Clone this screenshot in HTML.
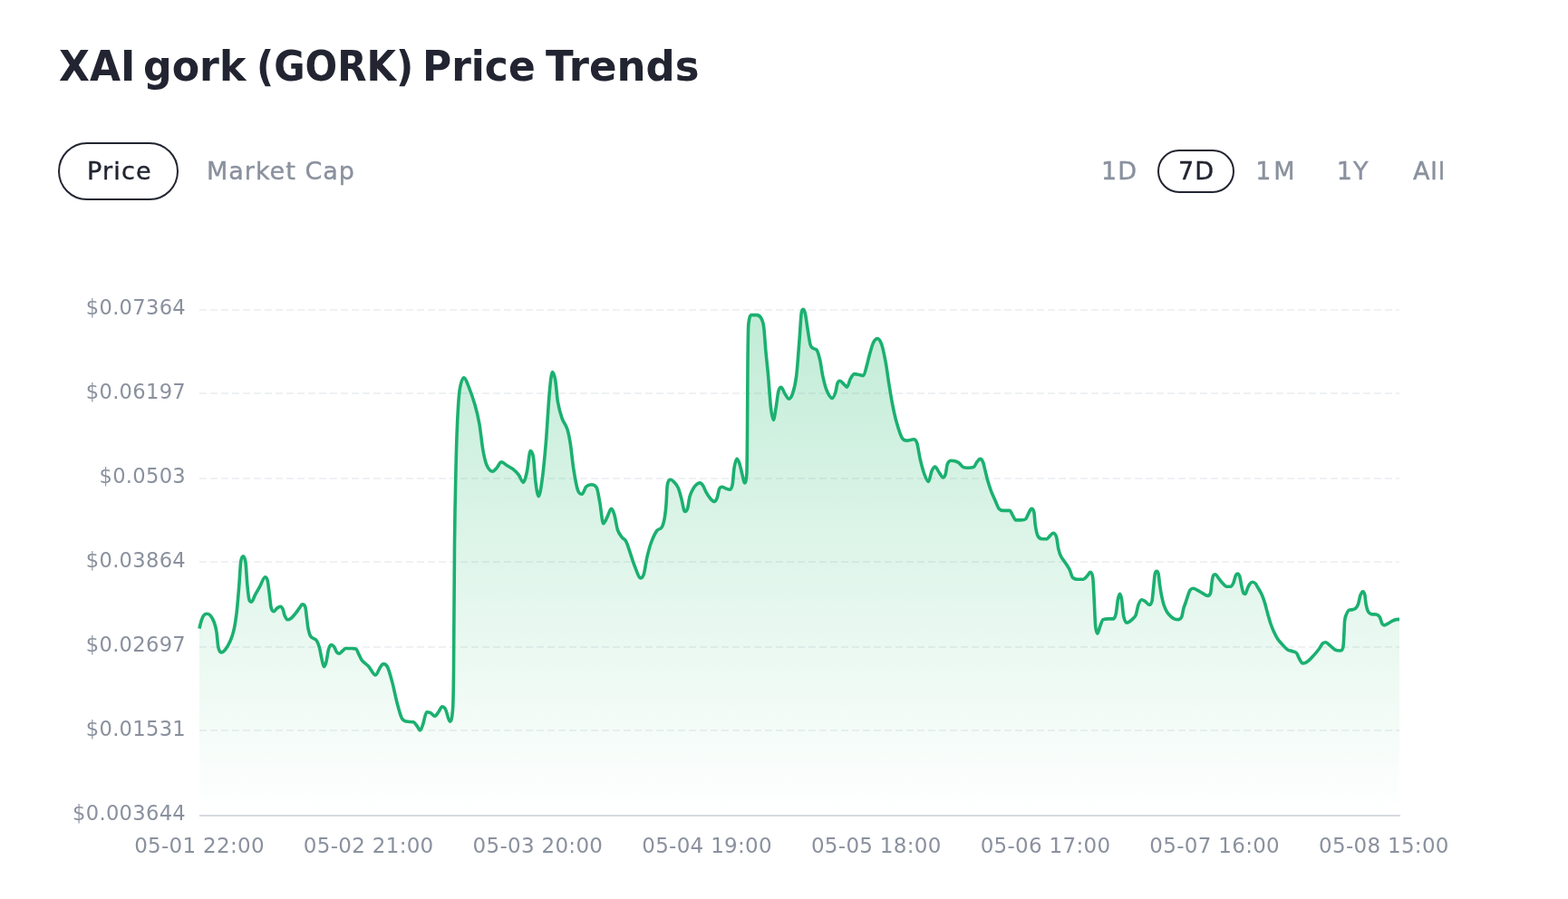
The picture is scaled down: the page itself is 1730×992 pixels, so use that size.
<!DOCTYPE html>
<html lang="en">
<head>
<meta charset="utf-8">
<title>XAI gork (GORK) Price Trends</title>
<style>
  html, body { margin: 0; padding: 0; background: #ffffff; }
  body { width: 1730px; height: 992px; position: relative; overflow: hidden;
         font-family: "DejaVu Sans", "Liberation Sans", sans-serif; }
  .abs { position: absolute; white-space: nowrap; }
  h1.title { position: absolute; left: 64.4px; top: 42.6px; margin: 0; font-size: 46.5px; line-height: 60px;
             font-weight: 700; color: #222531; letter-spacing: 0px; white-space: nowrap; width: 720px; height: 60px; }
  h1.title .w { position: absolute; top: 0; transform-origin: 0 0; }
  .pill { position: absolute; box-sizing: border-box; border: 2px solid #222531; border-radius: 999px; }
  .tab { position: absolute; font-size: 27px; line-height: 32px; color: #8a919e; white-space: nowrap; -webkit-text-stroke: 0.4px currentColor; }
  .tab.on { color: #222531; }
  .chart { position: absolute; left: 0; top: 0; }
  .ylab { font-size: 22.6px; fill: #8a919e; letter-spacing: 0.3px; }
  .xlab { font-size: 23px; fill: #8a919e; letter-spacing: 0.3px; }
</style>
</head>
<body>
  <h1 class="title"><span class="w" style="left:0.4px;transform:scaleX(0.9451)">XAI</span> <span class="w" style="left:93.2px;transform:scaleX(0.9522)">gork</span> <span class="w" style="left:218.6px;transform:scaleX(0.9018)">(GORK)</span> <span class="w" style="left:401.6px;transform:scaleX(0.9441)">Price</span> <span class="w" style="left:537.3px;transform:scaleX(0.9675)">Trends</span></h1>

  <div class="pill" style="left:64px;top:157px;width:133px;height:64px;"></div>
  <div class="tab on" style="left:96px;top:173px;letter-spacing:1.2px;">Price</div>
  <div class="tab" style="left:228px;top:173px;letter-spacing:1px;">Market Cap</div>

  <div class="tab" style="left:1215px;top:173px;letter-spacing:1px;">1D</div>
  <div class="pill" style="left:1277px;top:165px;width:85px;height:48px;"></div>
  <div class="tab on" style="left:1300px;top:173px;letter-spacing:1px;">7D</div>
  <div class="tab" style="left:1385.2px;top:173px;letter-spacing:3px;">1M</div>
  <div class="tab" style="left:1474.8px;top:173px;letter-spacing:1px;">1Y</div>
  <div class="tab" style="left:1558.9px;top:173px;letter-spacing:1px;">All</div>

  <svg class="chart" width="1730" height="992" viewBox="0 0 1730 992">
    <defs>
      <linearGradient id="g" x1="0" y1="341" x2="0" y2="899" gradientUnits="userSpaceOnUse">
        <stop offset="0" stop-color="#18b868" stop-opacity="0.27"/>
        <stop offset="1" stop-color="#18b868" stop-opacity="0"/>
      </linearGradient>
    </defs>
    <g fill="none" stroke="#eff1f4" stroke-width="2" stroke-dasharray="8 4">
      <line x1="220" y1="342" x2="1544" y2="342"/>
      <line x1="220" y1="434" x2="1544" y2="434"/>
      <line x1="220" y1="528" x2="1544" y2="528"/>
      <line x1="220" y1="620" x2="1544" y2="620"/>
      <line x1="220" y1="714" x2="1544" y2="714"/>
      <line x1="220" y1="806" x2="1544" y2="806"/>
    </g>
    <rect x="220" y="899" width="1325" height="2" fill="#d6dae2"/>
    <path d="M219.90,693.70 C220.77,690.06 221.63,686.42 222.50,683.90 C223.37,681.38 224.23,679.57 225.10,678.60 C226.20,677.37 227.30,677.30 228.40,677.30 C229.70,677.30 231.00,677.77 232.30,679.30 C233.60,680.83 234.90,683.01 236.20,686.50 C237.10,688.91 238.00,691.62 238.90,697.00 C239.53,700.79 240.17,711.21 240.80,714.00 C241.90,718.84 243.00,719.90 244.10,719.90 C245.63,719.90 247.17,718.54 248.70,716.60 C250.43,714.41 252.17,711.44 253.90,707.50 C255.23,704.47 256.57,701.53 257.90,695.70 C258.97,691.03 260.03,685.00 261.10,676.00 C262.00,668.40 262.90,656.92 263.80,645.90 C264.43,638.15 265.07,623.85 265.70,619.70 C266.60,613.80 267.50,613.80 268.40,613.80 C269.27,613.80 270.13,614.82 271.00,621.00 C271.63,625.52 272.27,639.31 272.90,645.90 C273.57,652.84 274.23,659.60 274.90,661.60 C275.77,664.20 276.63,664.20 277.50,664.20 C278.83,664.20 280.17,658.86 281.50,656.40 C283.23,653.20 284.97,650.28 286.70,647.20 C288.67,643.71 290.63,636.70 292.60,636.70 C293.47,636.70 294.33,637.15 295.20,640.60 C295.87,643.25 296.53,649.97 297.20,655.00 C297.87,660.03 298.53,668.36 299.20,670.80 C300.27,674.70 301.33,674.70 302.40,674.70 C303.27,674.70 304.13,672.37 305.00,671.70 C306.50,670.54 308.00,669.20 309.50,669.20 C310.37,669.20 311.23,670.32 312.10,672.20 C312.77,673.65 313.43,677.65 314.10,679.20 C315.10,681.52 316.10,683.80 317.10,683.80 C318.43,683.80 319.77,683.34 321.10,682.30 C322.80,680.97 324.50,678.77 326.20,676.70 C327.53,675.07 328.87,672.94 330.20,671.20 C331.37,669.68 332.53,666.90 333.70,666.90 C334.73,666.90 335.77,666.90 336.80,669.70 C337.30,671.05 337.80,676.43 338.30,680.20 C338.80,683.97 339.30,689.65 339.80,692.30 C340.63,696.72 341.47,699.72 342.30,701.40 C343.47,703.75 344.63,703.48 345.80,704.40 C347.00,705.35 348.20,705.16 349.40,707.00 C350.40,708.53 351.40,710.94 352.40,714.50 C353.23,717.47 354.07,723.07 354.90,726.60 C355.73,730.13 356.57,735.70 357.40,735.70 C358.23,735.70 359.07,733.74 359.90,730.60 C360.77,727.34 361.63,719.46 362.50,716.50 C363.50,713.09 364.50,711.50 365.50,711.50 C366.50,711.50 367.50,712.15 368.50,713.50 C369.50,714.85 370.50,718.35 371.50,719.60 C372.53,720.89 373.57,721.10 374.60,721.10 C375.60,721.10 376.60,719.30 377.60,718.50 C378.93,717.43 380.27,715.50 381.60,715.50 C383.63,715.50 385.67,715.50 387.70,715.50 C389.37,715.50 391.03,715.50 392.70,716.00 C393.70,716.30 394.70,719.69 395.70,721.60 C396.90,723.89 398.10,727.10 399.30,728.60 C401.73,731.64 404.17,732.56 406.60,735.20 C409.20,738.02 411.80,745.00 414.40,745.00 C415.93,745.00 417.47,739.44 419.00,737.20 C420.30,735.30 421.60,732.60 422.90,732.60 C424.43,732.60 425.97,732.76 427.50,735.90 C429.27,739.52 431.03,746.29 432.80,752.90 C434.53,759.39 436.27,768.65 438.00,775.20 C439.73,781.75 441.47,788.75 443.20,792.20 C444.97,795.72 446.73,795.62 448.50,796.10 C451.10,796.80 453.70,796.10 456.30,796.80 C457.63,797.16 458.97,799.70 460.30,801.40 C461.37,802.76 462.43,806.00 463.50,806.00 C464.60,806.00 465.70,801.90 466.80,798.80 C468.10,795.13 469.40,785.70 470.70,785.70 C472.03,785.70 473.37,785.70 474.70,786.30 C476.43,787.08 478.17,790.20 479.90,790.20 C481.20,790.20 482.50,787.41 483.80,785.70 C485.13,783.94 486.47,779.80 487.80,779.80 C489.10,779.80 490.40,780.51 491.70,783.00 C493.23,785.94 494.77,796.10 496.30,796.10 C497.40,796.10 498.50,796.10 499.60,781.70 C499.90,777.77 500.20,768.69 500.50,740.00 C500.83,708.12 501.17,629.12 501.50,600.00 C502.03,553.42 502.57,535.48 503.10,512.90 C503.63,490.32 504.17,475.47 504.70,464.50 C505.50,448.04 506.30,435.89 507.10,430.60 C508.70,420.02 510.30,416.90 511.90,416.90 C513.53,416.90 515.17,421.76 516.80,425.80 C519.20,431.73 521.60,438.49 524.00,446.80 C525.63,452.46 527.27,458.52 528.90,467.70 C530.23,475.19 531.57,489.27 532.90,496.80 C534.23,504.33 535.57,509.93 536.90,512.90 C539.07,517.73 541.23,520.20 543.40,520.20 C545.00,520.20 546.60,517.83 548.20,516.10 C549.83,514.33 551.47,509.70 553.10,509.70 C555.23,509.70 557.37,512.38 559.50,513.70 C561.67,515.04 563.83,515.94 566.00,517.70 C568.13,519.44 570.27,521.44 572.40,524.20 C574.03,526.31 575.67,532.30 577.30,532.30 C578.63,532.30 579.97,526.78 581.30,521.00 C582.63,515.22 583.97,497.60 585.30,497.60 C586.37,497.60 587.43,498.31 588.50,504.80 C589.33,509.87 590.17,526.04 591.00,532.30 C592.07,540.31 593.13,547.60 594.20,547.60 C595.53,547.60 596.87,538.70 598.20,529.00 C599.57,519.06 600.93,505.02 602.30,488.70 C603.63,472.78 604.97,446.78 606.30,432.30 C607.37,420.71 608.43,410.50 609.50,410.50 C610.57,410.50 611.63,413.49 612.70,419.40 C613.60,424.39 614.50,438.06 615.40,443.20 C616.97,452.16 618.53,457.17 620.10,461.70 C622.00,467.20 623.90,467.54 625.80,473.30 C626.97,476.84 628.13,482.25 629.30,489.60 C630.47,496.95 631.63,510.05 632.80,517.40 C634.33,527.05 635.87,536.10 637.40,540.60 C638.97,545.20 640.53,545.20 642.10,545.20 C643.63,545.20 645.17,538.63 646.70,537.10 C648.63,535.17 650.57,534.80 652.50,534.80 C654.43,534.80 656.37,534.80 658.30,538.20 C659.47,540.25 660.63,548.27 661.80,554.50 C663.10,561.44 664.40,577.70 665.70,577.70 C667.10,577.70 668.50,573.29 669.90,570.70 C671.43,567.86 672.97,561.40 674.50,561.40 C675.67,561.40 676.83,564.48 678.00,568.40 C679.13,572.21 680.27,581.20 681.40,584.60 C682.97,589.30 684.53,590.54 686.10,592.70 C687.63,594.81 689.17,594.50 690.70,597.40 C692.23,600.30 693.77,605.71 695.30,610.10 C696.87,614.58 698.43,620.25 700.00,624.00 C702.30,629.51 704.60,637.90 706.90,637.90 C708.07,637.90 709.23,637.15 710.40,633.30 C711.57,629.45 712.73,619.81 713.90,614.80 C715.43,608.21 716.97,602.65 718.50,598.50 C720.57,592.91 722.63,588.56 724.70,585.60 C726.50,583.02 728.30,584.75 730.10,581.90 C731.10,580.32 732.10,577.48 733.10,572.30 C733.73,569.02 734.37,563.92 735.00,556.50 C735.40,551.82 735.80,538.23 736.20,536.00 C737.40,529.30 738.60,529.30 739.80,529.30 C741.20,529.30 742.60,530.80 744.00,532.30 C745.43,533.83 746.87,535.10 748.30,538.40 C749.50,541.16 750.70,546.17 751.90,550.50 C753.10,554.83 754.30,564.40 755.50,564.40 C756.50,564.40 757.50,564.36 758.50,561.40 C759.33,558.93 760.17,551.08 761.00,548.10 C762.20,543.81 763.40,541.82 764.60,539.60 C765.80,537.38 767.00,535.82 768.20,534.80 C769.63,533.58 771.07,532.90 772.50,532.90 C773.70,532.90 774.90,534.73 776.10,536.60 C777.10,538.16 778.10,541.44 779.10,543.20 C780.73,546.07 782.37,548.65 784.00,550.50 C785.40,552.08 786.80,553.50 788.20,553.50 C789.20,553.50 790.20,551.87 791.20,549.30 C792.00,547.24 792.80,541.36 793.60,539.60 C794.63,537.33 795.67,537.20 796.70,537.20 C798.10,537.20 799.50,538.50 800.90,539.00 C802.30,539.50 803.70,540.20 805.10,540.20 C806.10,540.20 807.10,539.62 808.10,534.80 C808.73,531.75 809.37,520.28 810.00,516.60 C811.00,510.78 812.00,506.30 813.00,506.30 C814.00,506.30 815.00,508.87 816.00,511.80 C817.00,514.73 818.00,519.99 819.00,523.90 C819.80,527.03 820.60,532.90 821.40,532.90 C822.23,532.90 823.07,532.90 823.90,522.70 C824.10,520.25 824.30,502.31 824.50,480.00 C824.67,461.41 824.83,415.62 825.00,400.00 C825.27,375.02 825.53,360.62 825.80,358.20 C826.97,347.60 828.13,347.60 829.30,347.60 C831.17,347.60 833.03,347.60 834.90,347.60 C836.57,347.60 838.23,348.34 839.90,351.20 C840.83,352.80 841.77,354.30 842.70,361.00 C843.40,366.03 844.10,378.73 844.80,386.40 C845.73,396.63 846.67,404.29 847.60,414.70 C848.57,425.49 849.53,441.74 850.50,450.00 C851.43,457.97 852.37,463.40 853.30,463.40 C854.23,463.40 855.17,455.30 856.10,450.00 C857.03,444.70 857.97,435.30 858.90,431.60 C859.87,427.77 860.83,427.40 861.80,427.40 C863.20,427.40 864.60,432.28 866.00,434.40 C867.40,436.52 868.80,440.10 870.20,440.10 C871.63,440.10 873.07,438.68 874.50,434.40 C875.90,430.22 877.30,425.99 878.70,414.70 C879.87,405.29 881.03,386.75 882.20,372.30 C882.93,363.22 883.67,347.03 884.40,344.10 C885.10,341.30 885.80,341.30 886.50,341.30 C887.20,341.30 887.90,343.47 888.60,346.90 C889.53,351.47 890.47,359.65 891.40,365.30 C892.33,370.95 893.27,377.69 894.20,380.80 C895.17,384.02 896.13,383.54 897.10,384.30 C898.50,385.40 899.90,384.30 901.30,386.40 C902.47,388.15 903.63,392.54 904.80,397.70 C905.77,401.97 906.73,410.28 907.70,414.70 C909.10,421.11 910.50,426.91 911.90,430.20 C914.00,435.14 916.10,439.40 918.20,439.40 C919.40,439.40 920.60,436.43 921.80,433.00 C922.50,431.00 923.20,424.91 923.90,423.10 C924.83,420.68 925.77,420.30 926.70,420.30 C928.13,420.30 929.57,422.55 931.00,423.80 C932.17,424.82 933.33,427.10 934.50,427.10 C935.73,427.10 936.97,420.28 938.20,418.10 C939.70,415.45 941.20,412.60 942.70,412.60 C944.53,412.60 946.37,413.17 948.20,413.50 C949.70,413.77 951.20,414.40 952.70,414.40 C953.90,414.40 955.10,407.63 956.30,403.50 C957.20,400.40 958.10,395.83 959.00,392.70 C960.53,387.36 962.07,381.32 963.60,378.10 C965.10,374.95 966.60,373.60 968.10,373.60 C969.63,373.60 971.17,375.57 972.70,380.00 C974.20,384.34 975.70,391.84 977.20,399.90 C978.40,406.34 979.60,416.04 980.80,423.50 C982.03,431.17 983.27,439.03 984.50,445.30 C986.00,452.93 987.50,459.96 989.00,465.20 C991.13,472.66 993.27,480.20 995.40,483.40 C997.20,486.10 999.00,486.10 1000.80,486.10 C1003.23,486.10 1005.67,484.80 1008.10,484.80 C1009.30,484.80 1010.50,485.10 1011.70,488.80 C1012.90,492.50 1014.10,501.95 1015.30,507.00 C1016.83,513.45 1018.37,519.17 1019.90,523.30 C1021.40,527.34 1022.90,531.50 1024.40,531.50 C1025.60,531.50 1026.80,522.40 1028.00,519.70 C1029.23,516.93 1030.47,515.10 1031.70,515.10 C1033.20,515.10 1034.70,519.53 1036.20,521.50 C1037.70,523.47 1039.20,526.90 1040.70,526.90 C1041.57,526.90 1042.43,525.61 1043.30,522.80 C1043.93,520.75 1044.57,513.86 1045.20,512.30 C1046.53,509.02 1047.87,508.30 1049.20,508.30 C1050.93,508.30 1052.67,508.49 1054.40,509.00 C1055.70,509.39 1057.00,509.99 1058.30,511.00 C1059.83,512.19 1061.37,515.00 1062.90,515.60 C1064.43,516.20 1065.97,516.20 1067.50,516.20 C1069.70,516.20 1071.90,516.20 1074.10,515.60 C1075.40,515.25 1076.70,511.36 1078.00,509.70 C1079.10,508.29 1080.20,506.40 1081.30,506.40 C1082.37,506.40 1083.43,507.22 1084.50,509.70 C1085.40,511.79 1086.30,516.55 1087.20,520.10 C1088.07,523.52 1088.93,527.63 1089.80,530.60 C1091.10,535.06 1092.40,538.99 1093.70,542.40 C1095.23,546.42 1096.77,549.47 1098.30,552.90 C1099.60,555.81 1100.90,559.79 1102.20,561.40 C1103.73,563.29 1105.27,563.40 1106.80,563.40 C1109.20,563.40 1111.60,563.40 1114.00,563.40 C1115.10,563.40 1116.20,566.85 1117.30,568.60 C1118.40,570.35 1119.50,573.90 1120.60,573.90 C1122.57,573.90 1124.53,573.90 1126.50,573.90 C1128.23,573.90 1129.97,573.90 1131.70,572.60 C1132.80,571.78 1133.90,567.96 1135.00,566.00 C1136.00,564.22 1137.00,561.40 1138.00,561.40 C1138.97,561.40 1139.93,561.40 1140.90,565.40 C1141.33,567.19 1141.77,576.27 1142.20,579.10 C1143.07,584.77 1143.93,589.16 1144.80,590.90 C1146.53,594.39 1148.27,594.80 1150.00,594.80 C1151.67,594.80 1153.33,594.80 1155.00,594.70 C1156.17,594.63 1157.33,592.25 1158.50,591.20 C1159.70,590.12 1160.90,588.30 1162.10,588.30 C1163.27,588.30 1164.43,589.06 1165.60,592.60 C1166.30,594.73 1167.00,602.29 1167.70,605.30 C1168.63,609.32 1169.57,611.84 1170.50,613.70 C1172.40,617.48 1174.30,619.21 1176.20,622.20 C1177.60,624.41 1179.00,626.34 1180.40,629.30 C1181.33,631.27 1182.27,635.92 1183.20,637.00 C1185.10,639.20 1187.00,639.20 1188.90,639.20 C1191.00,639.20 1193.10,639.20 1195.20,639.20 C1196.63,639.20 1198.07,637.03 1199.50,635.60 C1200.67,634.43 1201.83,631.40 1203.00,631.40 C1203.93,631.40 1204.87,631.40 1205.80,637.70 C1206.27,640.85 1206.73,652.98 1207.20,661.70 C1207.67,670.42 1208.13,685.15 1208.60,690.00 C1209.33,697.62 1210.07,699.10 1210.80,699.10 C1211.73,699.10 1212.67,693.70 1213.60,691.40 C1214.77,688.53 1215.93,684.03 1217.10,683.60 C1219.00,682.90 1220.90,682.90 1222.80,682.90 C1224.67,682.90 1226.53,682.90 1228.40,682.90 C1229.33,682.90 1230.27,681.26 1231.20,677.30 C1231.93,674.19 1232.67,665.43 1233.40,661.70 C1234.10,658.13 1234.80,655.40 1235.50,655.40 C1236.20,655.40 1236.90,657.58 1237.60,661.70 C1238.30,665.82 1239.00,676.92 1239.70,680.10 C1240.87,685.39 1242.03,687.10 1243.20,687.10 C1244.87,687.10 1246.53,685.71 1248.20,684.30 C1249.83,682.91 1251.47,682.24 1253.10,678.70 C1254.07,676.61 1255.03,669.97 1256.00,667.40 C1257.17,664.30 1258.33,661.70 1259.50,661.70 C1260.90,661.70 1262.30,662.86 1263.70,663.80 C1265.13,664.76 1266.57,667.40 1268.00,667.40 C1269.00,667.40 1270.00,667.20 1271.00,663.40 C1271.50,661.50 1272.00,655.01 1272.50,650.30 C1273.03,645.28 1273.57,637.18 1274.10,634.20 C1274.77,630.48 1275.43,630.20 1276.10,630.20 C1276.77,630.20 1277.43,630.32 1278.10,633.20 C1278.60,635.36 1279.10,641.84 1279.60,645.30 C1280.27,649.91 1280.93,654.11 1281.60,657.40 C1282.43,661.51 1283.27,665.03 1284.10,667.50 C1285.30,671.06 1286.50,673.56 1287.70,675.50 C1289.20,677.93 1290.70,679.26 1292.20,680.60 C1293.53,681.79 1294.87,682.61 1296.20,683.10 C1297.57,683.60 1298.93,683.60 1300.30,683.60 C1301.47,683.60 1302.63,683.17 1303.80,680.60 C1304.47,679.13 1305.13,673.90 1305.80,671.50 C1306.63,668.50 1307.47,666.87 1308.30,664.40 C1309.17,661.83 1310.03,658.87 1310.90,656.40 C1311.57,654.50 1312.23,652.16 1312.90,651.30 C1314.07,649.79 1315.23,649.30 1316.40,649.30 C1317.73,649.30 1319.07,650.13 1320.40,650.80 C1322.43,651.83 1324.47,653.29 1326.50,654.40 C1328.50,655.49 1330.50,657.40 1332.50,657.40 C1333.53,657.40 1334.57,657.40 1335.60,654.40 C1336.10,652.95 1336.60,645.50 1337.10,642.30 C1337.60,639.10 1338.10,636.10 1338.60,635.20 C1339.43,633.70 1340.27,633.70 1341.10,633.70 C1342.27,633.70 1343.43,636.73 1344.60,638.20 C1345.97,639.93 1347.33,641.93 1348.70,643.30 C1350.37,644.97 1352.03,647.30 1353.70,647.30 C1355.03,647.30 1356.37,647.30 1357.70,647.30 C1358.73,647.30 1359.77,645.53 1360.80,643.30 C1361.63,641.50 1362.47,637.11 1363.30,635.20 C1363.97,633.67 1364.63,633.00 1365.30,633.00 C1366.13,633.00 1366.97,633.74 1367.80,636.20 C1368.47,638.17 1369.13,643.34 1369.80,646.30 C1370.50,649.41 1371.20,653.35 1371.90,654.40 C1372.57,655.40 1373.23,655.40 1373.90,655.40 C1374.73,655.40 1375.57,651.15 1376.40,649.30 C1377.23,647.45 1378.07,645.36 1378.90,644.30 C1379.90,643.03 1380.90,642.30 1381.90,642.30 C1383.10,642.30 1384.30,643.12 1385.50,644.30 C1386.13,644.92 1386.77,646.59 1387.40,647.70 C1388.90,650.33 1390.40,652.29 1391.90,655.50 C1393.00,657.86 1394.10,660.88 1395.20,664.40 C1396.30,667.92 1397.40,672.72 1398.50,676.60 C1399.60,680.48 1400.70,684.43 1401.80,687.70 C1402.93,691.07 1404.07,694.00 1405.20,696.50 C1406.67,699.73 1408.13,702.68 1409.60,704.90 C1411.43,707.68 1413.27,709.50 1415.10,711.50 C1416.97,713.53 1418.83,715.79 1420.70,717.00 C1422.53,718.19 1424.37,717.99 1426.20,718.70 C1427.70,719.29 1429.20,719.27 1430.70,720.90 C1431.60,721.88 1432.50,724.99 1433.40,726.50 C1434.70,728.69 1436.00,732.00 1437.30,732.00 C1439.17,732.00 1441.03,731.16 1442.90,729.80 C1445.10,728.20 1447.30,725.52 1449.50,723.10 C1451.33,721.08 1453.17,718.94 1455.00,716.50 C1456.50,714.50 1458.00,711.30 1459.50,709.80 C1460.60,708.70 1461.70,708.70 1462.80,708.70 C1464.27,708.70 1465.73,710.92 1467.20,712.10 C1469.20,713.72 1471.20,716.10 1473.20,717.10 C1475.00,718.00 1476.80,718.00 1478.60,718.00 C1479.67,718.00 1480.73,718.00 1481.80,714.40 C1482.10,713.39 1482.40,708.33 1482.70,703.50 C1483.00,698.67 1483.30,688.22 1483.60,685.40 C1484.20,679.76 1484.80,679.58 1485.40,678.10 C1486.47,675.48 1487.53,673.46 1488.60,673.10 C1489.80,672.70 1491.00,673.06 1492.20,672.70 C1493.43,672.33 1494.67,672.13 1495.90,670.90 C1496.80,670.00 1497.70,668.82 1498.60,666.30 C1499.33,664.25 1500.07,659.19 1500.80,657.20 C1501.73,654.66 1502.67,652.70 1503.60,652.70 C1504.33,652.70 1505.07,653.35 1505.80,656.30 C1506.27,658.18 1506.73,664.85 1507.20,667.20 C1507.97,671.05 1508.73,673.54 1509.50,674.90 C1510.70,677.04 1511.90,677.43 1513.10,677.70 C1514.90,678.10 1516.70,677.70 1518.50,678.10 C1519.73,678.37 1520.97,678.87 1522.20,680.80 C1523.10,682.21 1524.00,686.58 1524.90,688.10 C1525.80,689.62 1526.70,689.90 1527.60,689.90 C1528.80,689.90 1530.00,688.76 1531.20,688.10 C1532.73,687.26 1534.27,686.16 1535.80,685.40 C1537.30,684.66 1538.80,683.84 1540.30,683.60 C1541.53,683.40 1542.77,683.40 1544.00,683.40 L1544.00,899 L219.90,899 Z" fill="url(#g)" stroke="none"/>
    <path d="M219.90,693.70 C220.77,690.06 221.63,686.42 222.50,683.90 C223.37,681.38 224.23,679.57 225.10,678.60 C226.20,677.37 227.30,677.30 228.40,677.30 C229.70,677.30 231.00,677.77 232.30,679.30 C233.60,680.83 234.90,683.01 236.20,686.50 C237.10,688.91 238.00,691.62 238.90,697.00 C239.53,700.79 240.17,711.21 240.80,714.00 C241.90,718.84 243.00,719.90 244.10,719.90 C245.63,719.90 247.17,718.54 248.70,716.60 C250.43,714.41 252.17,711.44 253.90,707.50 C255.23,704.47 256.57,701.53 257.90,695.70 C258.97,691.03 260.03,685.00 261.10,676.00 C262.00,668.40 262.90,656.92 263.80,645.90 C264.43,638.15 265.07,623.85 265.70,619.70 C266.60,613.80 267.50,613.80 268.40,613.80 C269.27,613.80 270.13,614.82 271.00,621.00 C271.63,625.52 272.27,639.31 272.90,645.90 C273.57,652.84 274.23,659.60 274.90,661.60 C275.77,664.20 276.63,664.20 277.50,664.20 C278.83,664.20 280.17,658.86 281.50,656.40 C283.23,653.20 284.97,650.28 286.70,647.20 C288.67,643.71 290.63,636.70 292.60,636.70 C293.47,636.70 294.33,637.15 295.20,640.60 C295.87,643.25 296.53,649.97 297.20,655.00 C297.87,660.03 298.53,668.36 299.20,670.80 C300.27,674.70 301.33,674.70 302.40,674.70 C303.27,674.70 304.13,672.37 305.00,671.70 C306.50,670.54 308.00,669.20 309.50,669.20 C310.37,669.20 311.23,670.32 312.10,672.20 C312.77,673.65 313.43,677.65 314.10,679.20 C315.10,681.52 316.10,683.80 317.10,683.80 C318.43,683.80 319.77,683.34 321.10,682.30 C322.80,680.97 324.50,678.77 326.20,676.70 C327.53,675.07 328.87,672.94 330.20,671.20 C331.37,669.68 332.53,666.90 333.70,666.90 C334.73,666.90 335.77,666.90 336.80,669.70 C337.30,671.05 337.80,676.43 338.30,680.20 C338.80,683.97 339.30,689.65 339.80,692.30 C340.63,696.72 341.47,699.72 342.30,701.40 C343.47,703.75 344.63,703.48 345.80,704.40 C347.00,705.35 348.20,705.16 349.40,707.00 C350.40,708.53 351.40,710.94 352.40,714.50 C353.23,717.47 354.07,723.07 354.90,726.60 C355.73,730.13 356.57,735.70 357.40,735.70 C358.23,735.70 359.07,733.74 359.90,730.60 C360.77,727.34 361.63,719.46 362.50,716.50 C363.50,713.09 364.50,711.50 365.50,711.50 C366.50,711.50 367.50,712.15 368.50,713.50 C369.50,714.85 370.50,718.35 371.50,719.60 C372.53,720.89 373.57,721.10 374.60,721.10 C375.60,721.10 376.60,719.30 377.60,718.50 C378.93,717.43 380.27,715.50 381.60,715.50 C383.63,715.50 385.67,715.50 387.70,715.50 C389.37,715.50 391.03,715.50 392.70,716.00 C393.70,716.30 394.70,719.69 395.70,721.60 C396.90,723.89 398.10,727.10 399.30,728.60 C401.73,731.64 404.17,732.56 406.60,735.20 C409.20,738.02 411.80,745.00 414.40,745.00 C415.93,745.00 417.47,739.44 419.00,737.20 C420.30,735.30 421.60,732.60 422.90,732.60 C424.43,732.60 425.97,732.76 427.50,735.90 C429.27,739.52 431.03,746.29 432.80,752.90 C434.53,759.39 436.27,768.65 438.00,775.20 C439.73,781.75 441.47,788.75 443.20,792.20 C444.97,795.72 446.73,795.62 448.50,796.10 C451.10,796.80 453.70,796.10 456.30,796.80 C457.63,797.16 458.97,799.70 460.30,801.40 C461.37,802.76 462.43,806.00 463.50,806.00 C464.60,806.00 465.70,801.90 466.80,798.80 C468.10,795.13 469.40,785.70 470.70,785.70 C472.03,785.70 473.37,785.70 474.70,786.30 C476.43,787.08 478.17,790.20 479.90,790.20 C481.20,790.20 482.50,787.41 483.80,785.70 C485.13,783.94 486.47,779.80 487.80,779.80 C489.10,779.80 490.40,780.51 491.70,783.00 C493.23,785.94 494.77,796.10 496.30,796.10 C497.40,796.10 498.50,796.10 499.60,781.70 C499.90,777.77 500.20,768.69 500.50,740.00 C500.83,708.12 501.17,629.12 501.50,600.00 C502.03,553.42 502.57,535.48 503.10,512.90 C503.63,490.32 504.17,475.47 504.70,464.50 C505.50,448.04 506.30,435.89 507.10,430.60 C508.70,420.02 510.30,416.90 511.90,416.90 C513.53,416.90 515.17,421.76 516.80,425.80 C519.20,431.73 521.60,438.49 524.00,446.80 C525.63,452.46 527.27,458.52 528.90,467.70 C530.23,475.19 531.57,489.27 532.90,496.80 C534.23,504.33 535.57,509.93 536.90,512.90 C539.07,517.73 541.23,520.20 543.40,520.20 C545.00,520.20 546.60,517.83 548.20,516.10 C549.83,514.33 551.47,509.70 553.10,509.70 C555.23,509.70 557.37,512.38 559.50,513.70 C561.67,515.04 563.83,515.94 566.00,517.70 C568.13,519.44 570.27,521.44 572.40,524.20 C574.03,526.31 575.67,532.30 577.30,532.30 C578.63,532.30 579.97,526.78 581.30,521.00 C582.63,515.22 583.97,497.60 585.30,497.60 C586.37,497.60 587.43,498.31 588.50,504.80 C589.33,509.87 590.17,526.04 591.00,532.30 C592.07,540.31 593.13,547.60 594.20,547.60 C595.53,547.60 596.87,538.70 598.20,529.00 C599.57,519.06 600.93,505.02 602.30,488.70 C603.63,472.78 604.97,446.78 606.30,432.30 C607.37,420.71 608.43,410.50 609.50,410.50 C610.57,410.50 611.63,413.49 612.70,419.40 C613.60,424.39 614.50,438.06 615.40,443.20 C616.97,452.16 618.53,457.17 620.10,461.70 C622.00,467.20 623.90,467.54 625.80,473.30 C626.97,476.84 628.13,482.25 629.30,489.60 C630.47,496.95 631.63,510.05 632.80,517.40 C634.33,527.05 635.87,536.10 637.40,540.60 C638.97,545.20 640.53,545.20 642.10,545.20 C643.63,545.20 645.17,538.63 646.70,537.10 C648.63,535.17 650.57,534.80 652.50,534.80 C654.43,534.80 656.37,534.80 658.30,538.20 C659.47,540.25 660.63,548.27 661.80,554.50 C663.10,561.44 664.40,577.70 665.70,577.70 C667.10,577.70 668.50,573.29 669.90,570.70 C671.43,567.86 672.97,561.40 674.50,561.40 C675.67,561.40 676.83,564.48 678.00,568.40 C679.13,572.21 680.27,581.20 681.40,584.60 C682.97,589.30 684.53,590.54 686.10,592.70 C687.63,594.81 689.17,594.50 690.70,597.40 C692.23,600.30 693.77,605.71 695.30,610.10 C696.87,614.58 698.43,620.25 700.00,624.00 C702.30,629.51 704.60,637.90 706.90,637.90 C708.07,637.90 709.23,637.15 710.40,633.30 C711.57,629.45 712.73,619.81 713.90,614.80 C715.43,608.21 716.97,602.65 718.50,598.50 C720.57,592.91 722.63,588.56 724.70,585.60 C726.50,583.02 728.30,584.75 730.10,581.90 C731.10,580.32 732.10,577.48 733.10,572.30 C733.73,569.02 734.37,563.92 735.00,556.50 C735.40,551.82 735.80,538.23 736.20,536.00 C737.40,529.30 738.60,529.30 739.80,529.30 C741.20,529.30 742.60,530.80 744.00,532.30 C745.43,533.83 746.87,535.10 748.30,538.40 C749.50,541.16 750.70,546.17 751.90,550.50 C753.10,554.83 754.30,564.40 755.50,564.40 C756.50,564.40 757.50,564.36 758.50,561.40 C759.33,558.93 760.17,551.08 761.00,548.10 C762.20,543.81 763.40,541.82 764.60,539.60 C765.80,537.38 767.00,535.82 768.20,534.80 C769.63,533.58 771.07,532.90 772.50,532.90 C773.70,532.90 774.90,534.73 776.10,536.60 C777.10,538.16 778.10,541.44 779.10,543.20 C780.73,546.07 782.37,548.65 784.00,550.50 C785.40,552.08 786.80,553.50 788.20,553.50 C789.20,553.50 790.20,551.87 791.20,549.30 C792.00,547.24 792.80,541.36 793.60,539.60 C794.63,537.33 795.67,537.20 796.70,537.20 C798.10,537.20 799.50,538.50 800.90,539.00 C802.30,539.50 803.70,540.20 805.10,540.20 C806.10,540.20 807.10,539.62 808.10,534.80 C808.73,531.75 809.37,520.28 810.00,516.60 C811.00,510.78 812.00,506.30 813.00,506.30 C814.00,506.30 815.00,508.87 816.00,511.80 C817.00,514.73 818.00,519.99 819.00,523.90 C819.80,527.03 820.60,532.90 821.40,532.90 C822.23,532.90 823.07,532.90 823.90,522.70 C824.10,520.25 824.30,502.31 824.50,480.00 C824.67,461.41 824.83,415.62 825.00,400.00 C825.27,375.02 825.53,360.62 825.80,358.20 C826.97,347.60 828.13,347.60 829.30,347.60 C831.17,347.60 833.03,347.60 834.90,347.60 C836.57,347.60 838.23,348.34 839.90,351.20 C840.83,352.80 841.77,354.30 842.70,361.00 C843.40,366.03 844.10,378.73 844.80,386.40 C845.73,396.63 846.67,404.29 847.60,414.70 C848.57,425.49 849.53,441.74 850.50,450.00 C851.43,457.97 852.37,463.40 853.30,463.40 C854.23,463.40 855.17,455.30 856.10,450.00 C857.03,444.70 857.97,435.30 858.90,431.60 C859.87,427.77 860.83,427.40 861.80,427.40 C863.20,427.40 864.60,432.28 866.00,434.40 C867.40,436.52 868.80,440.10 870.20,440.10 C871.63,440.10 873.07,438.68 874.50,434.40 C875.90,430.22 877.30,425.99 878.70,414.70 C879.87,405.29 881.03,386.75 882.20,372.30 C882.93,363.22 883.67,347.03 884.40,344.10 C885.10,341.30 885.80,341.30 886.50,341.30 C887.20,341.30 887.90,343.47 888.60,346.90 C889.53,351.47 890.47,359.65 891.40,365.30 C892.33,370.95 893.27,377.69 894.20,380.80 C895.17,384.02 896.13,383.54 897.10,384.30 C898.50,385.40 899.90,384.30 901.30,386.40 C902.47,388.15 903.63,392.54 904.80,397.70 C905.77,401.97 906.73,410.28 907.70,414.70 C909.10,421.11 910.50,426.91 911.90,430.20 C914.00,435.14 916.10,439.40 918.20,439.40 C919.40,439.40 920.60,436.43 921.80,433.00 C922.50,431.00 923.20,424.91 923.90,423.10 C924.83,420.68 925.77,420.30 926.70,420.30 C928.13,420.30 929.57,422.55 931.00,423.80 C932.17,424.82 933.33,427.10 934.50,427.10 C935.73,427.10 936.97,420.28 938.20,418.10 C939.70,415.45 941.20,412.60 942.70,412.60 C944.53,412.60 946.37,413.17 948.20,413.50 C949.70,413.77 951.20,414.40 952.70,414.40 C953.90,414.40 955.10,407.63 956.30,403.50 C957.20,400.40 958.10,395.83 959.00,392.70 C960.53,387.36 962.07,381.32 963.60,378.10 C965.10,374.95 966.60,373.60 968.10,373.60 C969.63,373.60 971.17,375.57 972.70,380.00 C974.20,384.34 975.70,391.84 977.20,399.90 C978.40,406.34 979.60,416.04 980.80,423.50 C982.03,431.17 983.27,439.03 984.50,445.30 C986.00,452.93 987.50,459.96 989.00,465.20 C991.13,472.66 993.27,480.20 995.40,483.40 C997.20,486.10 999.00,486.10 1000.80,486.10 C1003.23,486.10 1005.67,484.80 1008.10,484.80 C1009.30,484.80 1010.50,485.10 1011.70,488.80 C1012.90,492.50 1014.10,501.95 1015.30,507.00 C1016.83,513.45 1018.37,519.17 1019.90,523.30 C1021.40,527.34 1022.90,531.50 1024.40,531.50 C1025.60,531.50 1026.80,522.40 1028.00,519.70 C1029.23,516.93 1030.47,515.10 1031.70,515.10 C1033.20,515.10 1034.70,519.53 1036.20,521.50 C1037.70,523.47 1039.20,526.90 1040.70,526.90 C1041.57,526.90 1042.43,525.61 1043.30,522.80 C1043.93,520.75 1044.57,513.86 1045.20,512.30 C1046.53,509.02 1047.87,508.30 1049.20,508.30 C1050.93,508.30 1052.67,508.49 1054.40,509.00 C1055.70,509.39 1057.00,509.99 1058.30,511.00 C1059.83,512.19 1061.37,515.00 1062.90,515.60 C1064.43,516.20 1065.97,516.20 1067.50,516.20 C1069.70,516.20 1071.90,516.20 1074.10,515.60 C1075.40,515.25 1076.70,511.36 1078.00,509.70 C1079.10,508.29 1080.20,506.40 1081.30,506.40 C1082.37,506.40 1083.43,507.22 1084.50,509.70 C1085.40,511.79 1086.30,516.55 1087.20,520.10 C1088.07,523.52 1088.93,527.63 1089.80,530.60 C1091.10,535.06 1092.40,538.99 1093.70,542.40 C1095.23,546.42 1096.77,549.47 1098.30,552.90 C1099.60,555.81 1100.90,559.79 1102.20,561.40 C1103.73,563.29 1105.27,563.40 1106.80,563.40 C1109.20,563.40 1111.60,563.40 1114.00,563.40 C1115.10,563.40 1116.20,566.85 1117.30,568.60 C1118.40,570.35 1119.50,573.90 1120.60,573.90 C1122.57,573.90 1124.53,573.90 1126.50,573.90 C1128.23,573.90 1129.97,573.90 1131.70,572.60 C1132.80,571.78 1133.90,567.96 1135.00,566.00 C1136.00,564.22 1137.00,561.40 1138.00,561.40 C1138.97,561.40 1139.93,561.40 1140.90,565.40 C1141.33,567.19 1141.77,576.27 1142.20,579.10 C1143.07,584.77 1143.93,589.16 1144.80,590.90 C1146.53,594.39 1148.27,594.80 1150.00,594.80 C1151.67,594.80 1153.33,594.80 1155.00,594.70 C1156.17,594.63 1157.33,592.25 1158.50,591.20 C1159.70,590.12 1160.90,588.30 1162.10,588.30 C1163.27,588.30 1164.43,589.06 1165.60,592.60 C1166.30,594.73 1167.00,602.29 1167.70,605.30 C1168.63,609.32 1169.57,611.84 1170.50,613.70 C1172.40,617.48 1174.30,619.21 1176.20,622.20 C1177.60,624.41 1179.00,626.34 1180.40,629.30 C1181.33,631.27 1182.27,635.92 1183.20,637.00 C1185.10,639.20 1187.00,639.20 1188.90,639.20 C1191.00,639.20 1193.10,639.20 1195.20,639.20 C1196.63,639.20 1198.07,637.03 1199.50,635.60 C1200.67,634.43 1201.83,631.40 1203.00,631.40 C1203.93,631.40 1204.87,631.40 1205.80,637.70 C1206.27,640.85 1206.73,652.98 1207.20,661.70 C1207.67,670.42 1208.13,685.15 1208.60,690.00 C1209.33,697.62 1210.07,699.10 1210.80,699.10 C1211.73,699.10 1212.67,693.70 1213.60,691.40 C1214.77,688.53 1215.93,684.03 1217.10,683.60 C1219.00,682.90 1220.90,682.90 1222.80,682.90 C1224.67,682.90 1226.53,682.90 1228.40,682.90 C1229.33,682.90 1230.27,681.26 1231.20,677.30 C1231.93,674.19 1232.67,665.43 1233.40,661.70 C1234.10,658.13 1234.80,655.40 1235.50,655.40 C1236.20,655.40 1236.90,657.58 1237.60,661.70 C1238.30,665.82 1239.00,676.92 1239.70,680.10 C1240.87,685.39 1242.03,687.10 1243.20,687.10 C1244.87,687.10 1246.53,685.71 1248.20,684.30 C1249.83,682.91 1251.47,682.24 1253.10,678.70 C1254.07,676.61 1255.03,669.97 1256.00,667.40 C1257.17,664.30 1258.33,661.70 1259.50,661.70 C1260.90,661.70 1262.30,662.86 1263.70,663.80 C1265.13,664.76 1266.57,667.40 1268.00,667.40 C1269.00,667.40 1270.00,667.20 1271.00,663.40 C1271.50,661.50 1272.00,655.01 1272.50,650.30 C1273.03,645.28 1273.57,637.18 1274.10,634.20 C1274.77,630.48 1275.43,630.20 1276.10,630.20 C1276.77,630.20 1277.43,630.32 1278.10,633.20 C1278.60,635.36 1279.10,641.84 1279.60,645.30 C1280.27,649.91 1280.93,654.11 1281.60,657.40 C1282.43,661.51 1283.27,665.03 1284.10,667.50 C1285.30,671.06 1286.50,673.56 1287.70,675.50 C1289.20,677.93 1290.70,679.26 1292.20,680.60 C1293.53,681.79 1294.87,682.61 1296.20,683.10 C1297.57,683.60 1298.93,683.60 1300.30,683.60 C1301.47,683.60 1302.63,683.17 1303.80,680.60 C1304.47,679.13 1305.13,673.90 1305.80,671.50 C1306.63,668.50 1307.47,666.87 1308.30,664.40 C1309.17,661.83 1310.03,658.87 1310.90,656.40 C1311.57,654.50 1312.23,652.16 1312.90,651.30 C1314.07,649.79 1315.23,649.30 1316.40,649.30 C1317.73,649.30 1319.07,650.13 1320.40,650.80 C1322.43,651.83 1324.47,653.29 1326.50,654.40 C1328.50,655.49 1330.50,657.40 1332.50,657.40 C1333.53,657.40 1334.57,657.40 1335.60,654.40 C1336.10,652.95 1336.60,645.50 1337.10,642.30 C1337.60,639.10 1338.10,636.10 1338.60,635.20 C1339.43,633.70 1340.27,633.70 1341.10,633.70 C1342.27,633.70 1343.43,636.73 1344.60,638.20 C1345.97,639.93 1347.33,641.93 1348.70,643.30 C1350.37,644.97 1352.03,647.30 1353.70,647.30 C1355.03,647.30 1356.37,647.30 1357.70,647.30 C1358.73,647.30 1359.77,645.53 1360.80,643.30 C1361.63,641.50 1362.47,637.11 1363.30,635.20 C1363.97,633.67 1364.63,633.00 1365.30,633.00 C1366.13,633.00 1366.97,633.74 1367.80,636.20 C1368.47,638.17 1369.13,643.34 1369.80,646.30 C1370.50,649.41 1371.20,653.35 1371.90,654.40 C1372.57,655.40 1373.23,655.40 1373.90,655.40 C1374.73,655.40 1375.57,651.15 1376.40,649.30 C1377.23,647.45 1378.07,645.36 1378.90,644.30 C1379.90,643.03 1380.90,642.30 1381.90,642.30 C1383.10,642.30 1384.30,643.12 1385.50,644.30 C1386.13,644.92 1386.77,646.59 1387.40,647.70 C1388.90,650.33 1390.40,652.29 1391.90,655.50 C1393.00,657.86 1394.10,660.88 1395.20,664.40 C1396.30,667.92 1397.40,672.72 1398.50,676.60 C1399.60,680.48 1400.70,684.43 1401.80,687.70 C1402.93,691.07 1404.07,694.00 1405.20,696.50 C1406.67,699.73 1408.13,702.68 1409.60,704.90 C1411.43,707.68 1413.27,709.50 1415.10,711.50 C1416.97,713.53 1418.83,715.79 1420.70,717.00 C1422.53,718.19 1424.37,717.99 1426.20,718.70 C1427.70,719.29 1429.20,719.27 1430.70,720.90 C1431.60,721.88 1432.50,724.99 1433.40,726.50 C1434.70,728.69 1436.00,732.00 1437.30,732.00 C1439.17,732.00 1441.03,731.16 1442.90,729.80 C1445.10,728.20 1447.30,725.52 1449.50,723.10 C1451.33,721.08 1453.17,718.94 1455.00,716.50 C1456.50,714.50 1458.00,711.30 1459.50,709.80 C1460.60,708.70 1461.70,708.70 1462.80,708.70 C1464.27,708.70 1465.73,710.92 1467.20,712.10 C1469.20,713.72 1471.20,716.10 1473.20,717.10 C1475.00,718.00 1476.80,718.00 1478.60,718.00 C1479.67,718.00 1480.73,718.00 1481.80,714.40 C1482.10,713.39 1482.40,708.33 1482.70,703.50 C1483.00,698.67 1483.30,688.22 1483.60,685.40 C1484.20,679.76 1484.80,679.58 1485.40,678.10 C1486.47,675.48 1487.53,673.46 1488.60,673.10 C1489.80,672.70 1491.00,673.06 1492.20,672.70 C1493.43,672.33 1494.67,672.13 1495.90,670.90 C1496.80,670.00 1497.70,668.82 1498.60,666.30 C1499.33,664.25 1500.07,659.19 1500.80,657.20 C1501.73,654.66 1502.67,652.70 1503.60,652.70 C1504.33,652.70 1505.07,653.35 1505.80,656.30 C1506.27,658.18 1506.73,664.85 1507.20,667.20 C1507.97,671.05 1508.73,673.54 1509.50,674.90 C1510.70,677.04 1511.90,677.43 1513.10,677.70 C1514.90,678.10 1516.70,677.70 1518.50,678.10 C1519.73,678.37 1520.97,678.87 1522.20,680.80 C1523.10,682.21 1524.00,686.58 1524.90,688.10 C1525.80,689.62 1526.70,689.90 1527.60,689.90 C1528.80,689.90 1530.00,688.76 1531.20,688.10 C1532.73,687.26 1534.27,686.16 1535.80,685.40 C1537.30,684.66 1538.80,683.84 1540.30,683.60 C1541.53,683.40 1542.77,683.40 1544.00,683.40" fill="none" stroke="#1bb070" stroke-width="3.6" stroke-linejoin="round" stroke-linecap="butt"/>
    <g class="ylab" text-anchor="end">
      <text x="205" y="347">$0.07364</text>
      <text x="205" y="440">$0.06197</text>
      <text x="205" y="533">$0.0503</text>
      <text x="205" y="626">$0.03864</text>
      <text x="205" y="719">$0.02697</text>
      <text x="205" y="812">$0.01531</text>
      <text x="205" y="905">$0.003644</text>
    </g>
    <g class="xlab" text-anchor="middle">
      <text x="220" y="941">05-01 22:00</text>
      <text x="406.7" y="941">05-02 21:00</text>
      <text x="593.4" y="941">05-03 20:00</text>
      <text x="780.1" y="941">05-04 19:00</text>
      <text x="966.8" y="941">05-05 18:00</text>
      <text x="1153.5" y="941">05-06 17:00</text>
      <text x="1340.2" y="941">05-07 16:00</text>
      <text x="1526.9" y="941">05-08 15:00</text>
    </g>
  </svg>
</body>
</html>
